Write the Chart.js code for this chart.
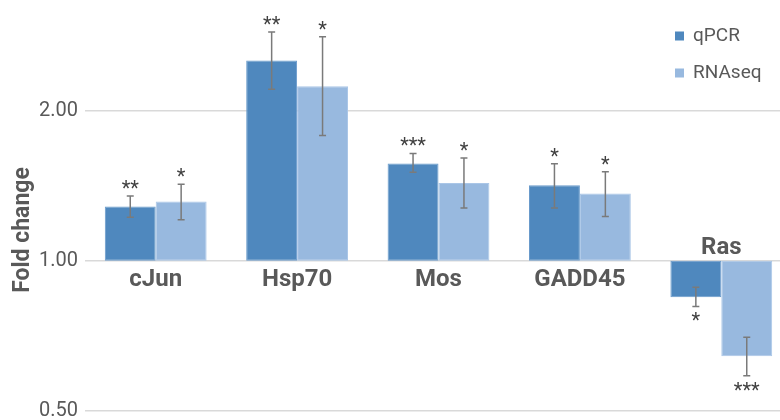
<!DOCTYPE html>
<html>
<head>
<meta charset="utf-8">
<script src="https://cdn.jsdelivr.net/npm/chart.js@4.4.1/dist/chart.umd.min.js"></script>
<style>
  html, body { margin: 0; padding: 0; background: #fff; overflow: hidden; }
  #wrap { width: 792px; height: 420px; }
</style>
</head>
<body>
<div id="wrap"><canvas id="myChart"></canvas></div>
<script>
// genes and fold changes (log2 axis, bars grow from 1.00)
const genes = ["cJun", "Hsp70", "Mos", "GADD45", "Ras"];
const qpcr = [1.285, 2.52, 1.567, 1.416, 0.845];
const qpcrHigh = [1.348, 2.872, 1.641, 1.564, 0.885];
const qpcrLow = [1.222, 2.207, 1.505, 1.275, 0.810];
const qpcrStars = ["**", "**", "***", "*", "*"];
const rnaseq = [1.315, 2.238, 1.431, 1.364, 0.644];
const rnaseqHigh = [1.424, 2.810, 1.606, 1.507, 0.703];
const rnaseqLow = [1.208, 1.783, 1.275, 1.227, 0.588];
const rnaseqStars = ["*", "*", "*", "*", "***"];
const yTicks = [0.5, 1, 2];

const grey = "#595959";
const errs = [
  { high: qpcrHigh, low: qpcrLow, stars: qpcrStars },
  { high: rnaseqHigh, low: rnaseqLow, stars: rnaseqStars }
];

// error bars, significance stars, gene names, axis title and legend
const extras = {
  id: "extras",
  afterDatasetsDraw(chart) {
    const ctx = chart.ctx;
    const y = chart.scales.y;
    const x = chart.scales.x;
    const base = y.getPixelForValue(1);
    ctx.save();
    errs.forEach((e, di) => {
      const meta = chart.getDatasetMeta(di);
      meta.data.forEach((bar, i) => {
        const top = y.getPixelForValue(e.high[i]);
        const bot = y.getPixelForValue(e.low[i]);
        ctx.strokeStyle = "#7a7a7a";
        ctx.lineWidth = 1.5;
        ctx.beginPath();
        ctx.moveTo(bar.x, top); ctx.lineTo(bar.x, bot);
        ctx.moveTo(bar.x - 3.5, top); ctx.lineTo(bar.x + 3.5, top);
        ctx.moveTo(bar.x - 3.5, bot); ctx.lineTo(bar.x + 3.5, bot);
        ctx.stroke();
        ctx.fillStyle = "#404040";
        ctx.font = "20px Roboto";
        ctx.textAlign = "center";
        ctx.textBaseline = "alphabetic";
        const up = chart.data.datasets[di].data[i][1] >= 1;
        ctx.fillText(e.stars[i], bar.x, up ? top - 1 : bot + 21);
      });
    });

    ctx.fillStyle = grey;
    ctx.font = "bold 24px Roboto";
    ctx.textAlign = "center";
    ctx.textBaseline = "middle";
    genes.forEach((g, i) => {
      const up = qpcr[i] >= 1;
      ctx.fillText(g, x.getPixelForValue(i), up ? base + 19 : base - 13);
    });

    ctx.save();
    ctx.translate(23, 230);
    ctx.rotate(-Math.PI / 2);
    ctx.font = "bold 23px Roboto";
    ctx.fillText("Fold change", 0, 0);
    ctx.restore();

    ctx.font = "19px Roboto";
    ctx.textAlign = "left";
    chart.data.datasets.forEach((ds, i) => {
      const ly = 36 + i * 37;
      ctx.fillStyle = ds.backgroundColor;
      ctx.fillRect(675, ly - 4.5, 9, 9);
      ctx.fillStyle = grey;
      ctx.fillText(ds.label, 693, ly);
    });
    ctx.restore();
  }
};

new Chart(document.getElementById("myChart"), {
  type: "bar",
  data: {
    labels: genes,
    datasets: [
      {
        label: "qPCR",
        data: qpcr.map(v => [1, v]),
        backgroundColor: "#4f88be",
        borderColor: "#6a9bcb",
        borderWidth: 1,
        borderSkipped: false
      },
      {
        label: "RNAseq",
        data: rnaseq.map(v => [1, v]),
        backgroundColor: "#98b9df",
        borderColor: "#aac6e7",
        borderWidth: 1,
        borderSkipped: false
      }
    ]
  },
  options: {
    responsive: true,
    maintainAspectRatio: false,
    animation: false,
    layout: { padding: { top: 0, bottom: 9, left: 0, right: 0 } },
    plugins: { legend: { display: false }, tooltip: { enabled: false } },
    datasets: { bar: { categoryPercentage: 0.72, barPercentage: 1 } },
    scales: {
      x: { display: false, offset: true },
      y: {
        type: "logarithmic",
        min: 0.5,
        max: 3.33,
        border: { display: false },
        grid: { color: "#d9d9d9", lineWidth: 1.5, drawTicks: false },
        afterBuildTicks: s => { s.ticks = yTicks.map(v => ({ value: v })); },
        afterFit: s => { s.width = 85; s.paddingTop = 0; s.paddingBottom = 0; },
        ticks: {
          padding: 7,
          color: grey,
          font: { family: "Roboto", size: 20 },
          callback: v => v.toFixed(2)
        }
      }
    }
  },
  plugins: [extras]
});
</script>
</body>
</html>
